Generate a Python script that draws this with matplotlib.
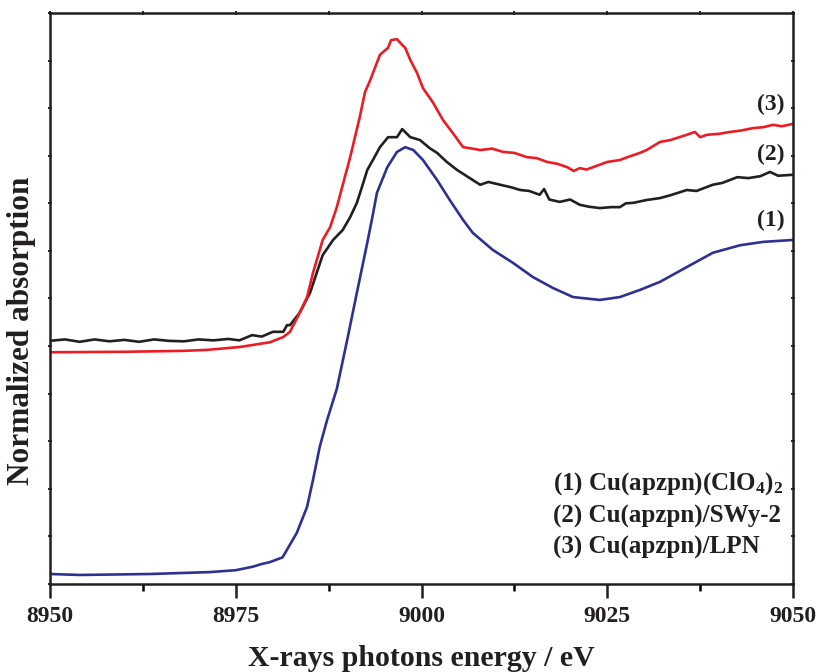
import matplotlib
matplotlib.use("Agg")
import matplotlib.pyplot as plt
import numpy as np

# ---- data ----
energy_1 = [8950.0, 8954.0, 8963.5, 8971.5, 8975.0, 8977.2, 8978.5, 8979.6, 8981.3, 8983.2,
            8984.6, 8985.4, 8986.3, 8987.3, 8988.0, 8988.6, 8990.0, 8991.3, 8992.7, 8993.5,
            8994.0, 8995.4, 8996.7, 8997.8, 8998.9, 9000.2, 9002.1, 9003.8, 9005.6, 9006.9,
            9009.6, 9012.3, 9015.0, 9017.7, 9020.4, 9024.0, 9026.7, 9029.4, 9032.1, 9035.7,
            9039.2, 9042.9, 9046.0, 9050.0]
absorb_1 = [0.021, 0.019, 0.021, 0.025, 0.029, 0.036, 0.042, 0.046, 0.056, 0.107,
            0.162, 0.219, 0.288, 0.345, 0.380, 0.410, 0.513, 0.612, 0.717, 0.780,
            0.822, 0.876, 0.908, 0.918, 0.912, 0.891, 0.849, 0.807, 0.765, 0.738,
            0.702, 0.675, 0.645, 0.622, 0.603, 0.597, 0.603, 0.618, 0.635, 0.666,
            0.696, 0.712, 0.719, 0.723]

energy_2 = [8950.0, 8952.0, 8954.0, 8956.0, 8958.0, 8960.0, 8962.0, 8964.0, 8966.0, 8968.0,
            8970.0, 8972.0, 8974.0, 8975.5, 8977.2, 8978.5, 8980.0, 8981.4, 8981.9, 8982.3,
            8983.6, 8985.0, 8985.9, 8986.7, 8988.1, 8989.4, 8990.4, 8991.3, 8992.0, 8992.7,
            8993.6, 8994.4, 8995.5, 8996.7, 8997.4, 8998.5, 8999.8, 9001.1, 9002.1, 9003.4,
            9004.8, 9006.5, 9007.9, 9009.0, 9010.6, 9012.0, 9013.3, 9014.5, 9015.9, 9016.5,
            9017.2, 9018.6, 9020.0, 9021.3, 9022.5, 9024.0, 9025.5, 9026.7, 9027.5, 9028.5,
            9030.3, 9032.1, 9033.5, 9035.7, 9037.0, 9039.2, 9040.5, 9042.5, 9044.0, 9045.6,
            9046.9, 9048.0, 9050.0]
absorb_2 = [0.511, 0.514, 0.509, 0.514, 0.510, 0.513, 0.509, 0.514, 0.511, 0.510,
            0.514, 0.512, 0.515, 0.512, 0.523, 0.520, 0.530, 0.530, 0.544, 0.544,
            0.570, 0.612, 0.654, 0.691, 0.723, 0.744, 0.771, 0.801, 0.835, 0.870,
            0.895, 0.918, 0.939, 0.939, 0.956, 0.939, 0.933, 0.916, 0.906, 0.887,
            0.870, 0.853, 0.839, 0.845, 0.839, 0.834, 0.828, 0.826, 0.818, 0.830,
            0.808, 0.803, 0.808, 0.797, 0.793, 0.790, 0.792, 0.792, 0.800, 0.801,
            0.807, 0.811, 0.817, 0.828, 0.826, 0.839, 0.843, 0.855, 0.853, 0.857,
            0.866, 0.858, 0.860]

energy_3 = [8950.0, 8960.0, 8968.0, 8971.1, 8975.5, 8979.6, 8981.4, 8982.3, 8983.6, 8984.6,
            8985.4, 8986.7, 8987.7, 8988.6, 8990.4, 8991.7, 8992.4, 8993.1, 8994.4, 8995.5,
            8995.9, 8996.7, 8997.4, 8997.8, 8998.5, 8999.4, 9000.2, 9001.5, 9002.9, 9004.2,
            9005.6, 9006.5, 9007.9, 9009.5, 9011.0, 9012.5, 9014.2, 9015.5, 9016.9, 9018.3,
            9019.6, 9020.5, 9021.3, 9022.2, 9023.1, 9025.0, 9026.7, 9027.7, 9029.4, 9030.3,
            9032.1, 9033.5, 9035.7, 9036.8, 9037.5, 9038.4, 9040.0, 9041.5, 9043.0, 9044.6,
            9046.0, 9047.3, 9048.5, 9050.0]
absorb_3 = [0.487, 0.488, 0.490, 0.492, 0.498, 0.508, 0.519, 0.530, 0.570, 0.603,
            0.654, 0.723, 0.750, 0.792, 0.897, 0.982, 1.034, 1.059, 1.112, 1.127,
            1.143, 1.145, 1.133, 1.127, 1.101, 1.074, 1.042, 1.013, 0.975, 0.948,
            0.918, 0.916, 0.912, 0.915, 0.908, 0.906, 0.897, 0.895, 0.887, 0.883,
            0.876, 0.868, 0.874, 0.871, 0.876, 0.887, 0.891, 0.897, 0.906, 0.912,
            0.929, 0.933, 0.944, 0.950, 0.939, 0.944, 0.946, 0.950, 0.953, 0.958,
            0.960, 0.965, 0.962, 0.967]

curve_tags = ["(1)", "(2)", "(3)"]
legend_lines = [r"(1) Cu(apzpn)(ClO$_{\mathbf{4}}$)$_{\mathbf{2}}$",
                "(2) Cu(apzpn)/SWy-2",
                "(3) Cu(apzpn)/LPN"]
x_ticks = [8950, 8975, 9000, 9025, 9050]

# ---- figure ----
plt.rcParams['font.family'] = ['Liberation Serif', 'DejaVu Serif']
plt.rcParams['font.weight'] = 'bold'
plt.rcParams['mathtext.fontset'] = 'custom'
plt.rcParams['mathtext.rm'] = 'Liberation Serif:bold'
plt.rcParams['mathtext.bf'] = 'Liberation Serif:bold'
plt.rcParams['mathtext.it'] = 'Liberation Serif:bold'

fig = plt.figure(figsize=(8.16, 6.72), dpi=100)
ax = fig.add_axes([50/816, 1-584/672, 743/816, 571/672])

ax.plot(energy_1, absorb_1, color='#2E3192', lw=1.9)
ax.plot(energy_2, absorb_2, color='#231F20', lw=1.9)
ax.plot(energy_3, absorb_3, color='#ED1C24', lw=1.9)

ax.set_xlim(8950, 9050)
ax.set_ylim(0, 1.2)
ax.set_xticks(x_ticks)
ax.set_xticks(np.arange(8950, 9051, 12.5), minor=True)
ax.set_yticks(np.arange(0, 1.21, 0.1))
ax.set_yticklabels([])

for s in ax.spines.values():
    s.set_linewidth(1.8)
    s.set_color('#231F20')

ax.tick_params(axis='x', which='major', direction='out', length=10, width=1.8,
               labelsize=17, pad=6, colors='#231F20')
ax.tick_params(axis='x', which='minor', direction='out', length=5, width=1.8)
ax.tick_params(axis='y', which='major', direction='inout', length=3, width=1.2,
               left=True, right=True)
for lab in ax.get_xticklabels():
    lab.set_fontweight('bold')

top = ax.secondary_xaxis('top')
top.set_xticks(x_ticks)
top.set_xticks(np.arange(8950, 9051, 12.5), minor=True)
top.tick_params(axis='x', which='both', direction='inout', length=3, width=1.2, labeltop=False)
top.spines['top'].set_visible(False)

fig.text(421/816, 1-666/672, "X-rays photons energy / eV", fontsize=21.5, fontweight='bold',
         ha='center', va='baseline', color='#231F20')
fig.text(22/816, 1-331/672, "Normalized absorption", fontsize=22.5, fontweight='bold',
         ha='center', va='center', rotation=90, color='#231F20')

# curve tags near right edge
tag_pos = [(9047.0, 0.765), (9047.0, 0.902), (9047.0, 1.008)]
for t, (xx, yy) in zip(curve_tags, tag_pos):
    ax.text(xx, yy, t, fontsize=17, fontweight='bold', ha='center', va='center', color='#231F20')

leg_y = [0.212, 0.143, 0.076]
for t, yy in zip(legend_lines, leg_y):
    ax.text(9017.7, yy, t, fontsize=18, fontweight='bold', ha='left', va='center', color='#231F20')

fig.savefig("out.png", dpi=100)
